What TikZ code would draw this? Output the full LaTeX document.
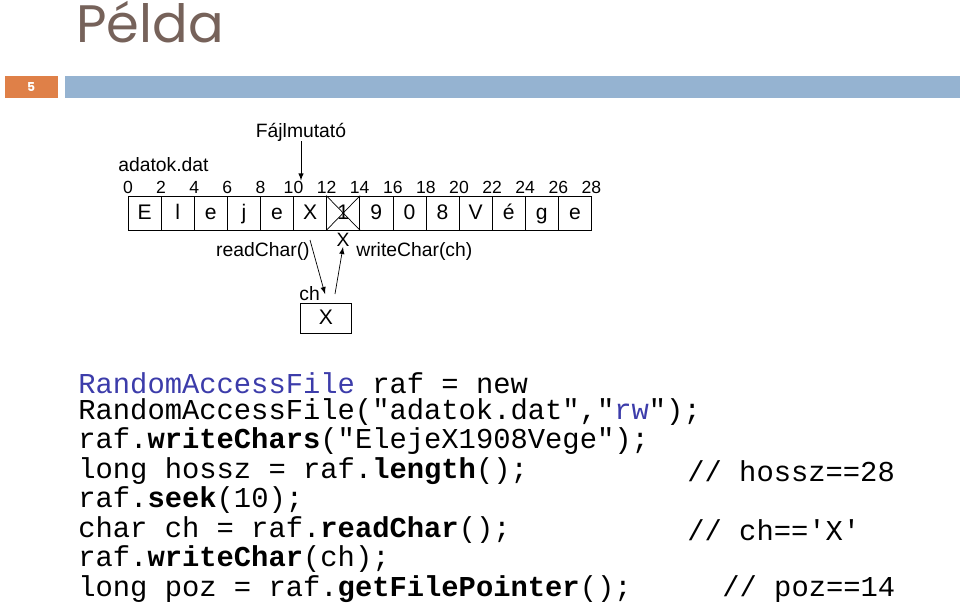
\documentclass[tikz,border=0pt]{standalone}
\usepackage{fontspec}
\setmainfont{Liberation Sans}
\setmonofont{Liberation Mono}
\newfontfamily\titlefont{Poppins}
\definecolor{titlebrown}{RGB}{118,98,90}
\definecolor{barblue}{RGB}{149,179,209}
\definecolor{barorange}{RGB}{223,128,72}
\definecolor{codeblue}{RGB}{60,60,170}
\begin{document}
\begin{tikzpicture}[
                            x=0.02cm, y=-0.02cm,
                            >=latex,
                            cell/.style={rectangle, draw, minimum width=0.662cm, minimum height=0.68cm, inner sep=0pt, text height=1.75ex, text depth=.45ex, font=\fontsize{12}{14}\selectfont},
                            lbl/.style={inner sep=0pt, font=\fontsize{11}{13}\selectfont},
                            idx/.style={inner sep=0pt, font=\fontsize{10}{12}\selectfont},
                            code/.style={anchor=west, inner sep=0pt, font=\ttfamily\fontsize{16.4}{18}\selectfont}
                        ]
                        \useasboundingbox (0,0) rectangle (960,605);
                        % Header
                        \node [anchor=west, inner sep=0pt, text=titlebrown, font=\titlefont\fontsize{30}{34}\selectfont] (title) at (76,22) {Példa};
                        \fill [barorange] (5,76) rectangle (58,98);
                        \fill [barblue] (65,76) rectangle (960,98);
                        \node [text=white, font=\titlefont\bfseries\fontsize{7}{8}\selectfont] (pagenum) at (31,87) {5};
                        % File cells
                        \foreach \ch [count=\i from 0] in {E,l,e,j,e,X,1,9,0,8,V,é,g,e} {
                            \node [cell] (c\i) at (144.6+33.1*\i,213) {\ch};
                        }
                        \foreach \i in {0,...,14} {
                            \pgfmathtruncatemacro{\pos}{2*\i}
                            \node [idx] (n\i) at (128+33.1*\i,187) {\pos};
                        }
                        \draw (c6.north west) -- (c6.south east);
                        \draw (c6.south west) -- (c6.north east);
                        \node [lbl, anchor=west] (fname) at (118,165) {adatok.dat};
                        \node [lbl] (pointer) at (301,132) {Fájlmutató};
                        \node [cell, minimum width=1.02cm, minimum height=0.6cm] (ch) at (326,318) {X};
                        \node [lbl, anchor=south west] (chlbl) at (299,301) {ch};
                        \node [lbl] (newx) at (343,240) {X};
                        \node [lbl, anchor=east] (readlbl) at (310,251) {readChar()};
                        \node [lbl, anchor=west] (writelbl) at (356,251) {writeChar(ch)};
                        % Connections
                        \draw [->] (pointer.south) -- (pointer.south |- n5.north);
                        \draw [->] (310,240) -- (325,294);
                        \draw [->] (335,294) -- (newx.south);
                        % Code
                        \node [code] (l1) at (78,383) {\textcolor{codeblue}{RandomAccessFile} raf = new};
                        \node [code] (l2) at (78,412) {RandomAccessFile("adatok.dat","\textcolor{codeblue}{rw}");};
                        \node [code] (l3) at (78,441) {raf.\textbf{writeChars}("ElejeX1908Vege");};
                        \node [code] (l4) at (78,471) {long hossz = raf.\textbf{length}();};
                        \node [code] (l5) at (78,500) {raf.\textbf{seek}(10);};
                        \node [code] (l6) at (78,530) {char ch = raf.\textbf{readChar}();};
                        \node [code] (l7) at (78,559) {raf.\textbf{writeChar}(ch);};
                        \node [code] (l8) at (78,589) {long poz = raf.\textbf{getFilePointer}();};
                        \node [code] (r4) at (687,471) {// hossz==28};
                        \node [code] (r6) at (687,530) {// ch=='X'};
                        \node [code] (r8) at (722,589) {// poz==14};
                    \end{tikzpicture}
\end{document}
